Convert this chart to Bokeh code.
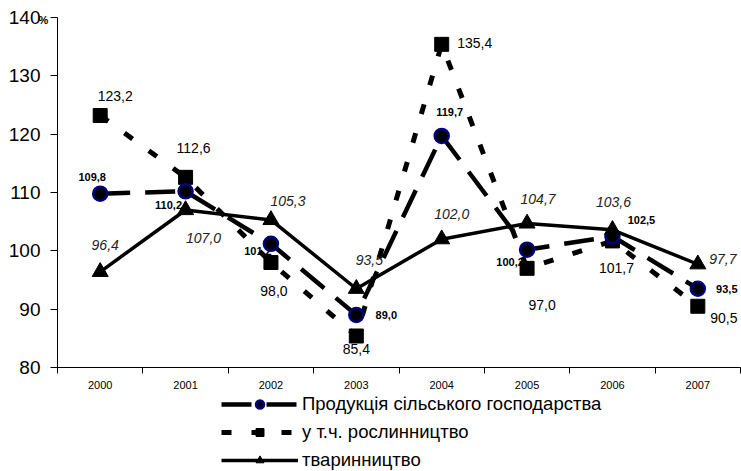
from bokeh.plotting import figure
from bokeh.models import FixedTicker, Legend, LegendItem, Range1d, ColumnDataSource
from bokeh.layouts import column
from bokeh.core.properties import value
from bokeh.embed import file_html
from bokeh.resources import INLINE

years = ["2000", "2001", "2002", "2003", "2004", "2005", "2006", "2007"]
agri = [109.8, 110.2, 101.2, 89.0, 119.7, 100.2, 102.5, 93.5]
crops = [123.2, 112.6, 98.0, 85.4, 135.4, 97.0, 101.7, 90.5]
livestock = [96.4, 107.0, 105.3, 93.5, 102.0, 104.7, 103.6, 97.7]
names = ["Продукція сільського господарства", "у т.ч. рослинництво", "тваринництво"]
y_ticks = [80, 90, 100, 110, 120, 130, 140]
unit = "%"

# label offsets (screen px) - styling only
agri_dx = [-8, -17, -13, 30, 8, -17, 29, 29]
agri_dy = [-17, 14, 7, 0, -24, 12, -16, 0]
crops_dx = [15, 8, 3, 0, 33, 15, 4, 26]
crops_dy = [-20, -29, 28, 13, -1, 37, 27, 12]
live_dx = [5, 18, 17, 13, 10, 11, 1, 25]
live_dy = [-27, 28, -19, -29, -25, -24, -28, -5]

FONT = "Arial"
xs = list(range(len(years)))

def fmt(v):
    return f"{v:.1f}".replace(".", ",")

p = figure(width=741, height=393, output_backend="svg", toolbar_location=None,
           x_range=Range1d(-0.5, len(years) - 0.5), y_range=Range1d(y_ticks[0], y_ticks[-1]),
           min_border_left=57, min_border_right=1, min_border_top=17, min_border_bottom=26)
p.outline_line_color = None
p.grid.visible = False
p.background_fill_color = "white"
p.border_fill_color = "white"

# unit label via title
p.title.text = unit
p.title.align = "left"
p.title.offset = -19
p.title.text_font = FONT
p.title.text_font_size = "11px"
p.title.text_font_style = "bold"
p.title.text_color = "black"
p.title.vertical_align = "bottom"
p.title.standoff = -16

# axes
p.xaxis.ticker = FixedTicker(ticks=xs, minor_ticks=[i - 0.5 for i in range(len(years) + 1)])
p.xaxis.major_label_overrides = {i: y for i, y in enumerate(years)}
p.xaxis.major_tick_out = 0
p.xaxis.major_tick_in = 0
p.xaxis.minor_tick_out = 6
p.xaxis.minor_tick_in = 0
p.xaxis.minor_tick_line_color = "black"
p.xaxis.axis_line_color = "black"
p.xaxis.major_label_text_font = FONT
p.xaxis.major_label_text_font_size = "11px"
p.xaxis.major_label_text_color = "black"
p.xaxis.major_label_standoff = 7

p.yaxis.ticker = FixedTicker(ticks=y_ticks)
p.yaxis.major_tick_out = 7
p.yaxis.major_tick_in = 0
p.yaxis.minor_tick_line_color = None
p.yaxis.axis_line_color = "black"
p.yaxis.major_label_text_font = FONT
p.yaxis.major_label_text_font_size = "19px"
p.yaxis.major_label_text_color = "black"
p.yaxis.major_label_standoff = 10

src1 = ColumnDataSource(dict(x=xs, y=agri, t=[fmt(v) for v in agri], dx=agri_dx, dy=agri_dy))
src2 = ColumnDataSource(dict(x=xs, y=crops, t=[fmt(v) for v in crops], dx=crops_dx, dy=crops_dy))
src3 = ColumnDataSource(dict(x=xs, y=livestock, t=[fmt(v) for v in livestock], dx=live_dx, dy=live_dy))

# labels under lines
p.text(x="x", y="y", text="t", x_offset="dx", y_offset="dy", source=src3,
       text_font=value(FONT), text_font_size="14px", text_font_style="italic", text_color="#222222",
       text_align="center", text_baseline="middle")
p.text(x="x", y="y", text="t", x_offset="dx", y_offset="dy", source=src1,
       text_font=value(FONT), text_font_size="11px", text_font_style="bold", text_color="black",
       text_align="center", text_baseline="middle")

STY1 = dict(line_color="black", line_width=4.5, line_dash="30 15")
STY2 = dict(line_color="black", line_width=5, line_dash="10 20")
STY3 = dict(line_color="black", line_width=3.5)
MK1 = dict(marker="circle", size=14, fill_color="black", line_color="#000080", line_width=2.5)
MK2 = dict(marker="square", size=14, fill_color="black", line_color="black")
MK3 = dict(marker="triangle", size=16, fill_color="black", line_color="black")

# lines
p.line("x", "y", source=src2, **STY2)
p.line("x", "y", source=src1, **STY1)
p.line("x", "y", source=src3, **STY3)

# markers
p.scatter("x", "y", source=src2, **MK2)
p.scatter("x", "y", source=src1, **MK1)
p.scatter("x", "y", source=src3, **MK3)

p.text(x="x", y="y", text="t", x_offset="dx", y_offset="dy", source=src2,
       text_font=value(FONT), text_font_size="14px", text_color="black",
       text_align="center", text_baseline="middle")

# legend figure (renderers use the same data, but fall outside this frame)
lf = figure(width=741, height=78, output_backend="svg", toolbar_location=None,
            x_range=Range1d(-100, -99), y_range=Range1d(-100, -99),
            min_border_left=0, min_border_right=0, min_border_top=0, min_border_bottom=0)
lf.axis.visible = False
lf.grid.visible = False
lf.outline_line_color = None
rl1 = lf.line("x", "y", source=src1, **STY1)
rm1 = lf.scatter("x", "y", source=src1, **MK1)
rl2 = lf.line("x", "y", source=src2, **STY2)
rm2 = lf.scatter("x", "y", source=src2, **MK2)
rl3 = lf.line("x", "y", source=src3, **STY3)
rm3 = lf.scatter("x", "y", source=src3, **MK3)

legend = Legend(items=[
    LegendItem(label=names[0], renderers=[rl1, rm1]),
    LegendItem(label=names[1], renderers=[rl2, rm2]),
    LegendItem(label=names[2], renderers=[rl3, rm3]),
], location=(164, 0), orientation="vertical")
legend.glyph_width = 77
legend.glyph_height = 20
legend.label_height = 20
legend.spacing = 6
legend.padding = 0
legend.margin = 0
legend.label_standoff = 4
legend.border_line_color = None
legend.background_fill_alpha = 0
legend.label_text_font = FONT
legend.label_text_font_size = "18.5px"
legend.label_text_color = "black"
lf.add_layout(legend, "center")

open("out.html", "w").write(file_html(column(p, lf, spacing=0), INLINE))
